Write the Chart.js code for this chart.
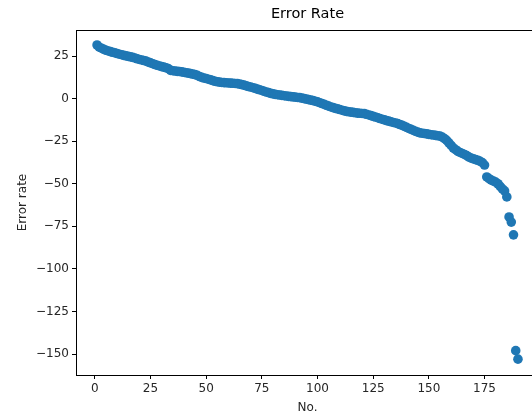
<!DOCTYPE html>
<html>
<head>
<meta charset="utf-8">
<script src="https://cdn.jsdelivr.net/npm/chart.js@4"></script>
<style>
  html, body { margin: 0; padding: 0; background: #fff; overflow: hidden; }
  #wrap { width: 545px; height: 415px; }
</style>
</head>
<body>
<div id="wrap"><canvas id="errChart"></canvas></div>
<script>
// DADOS: taxa de erro por registro (ordenada)
const errorRates = [
  31.5, 30.2, 29.6, 29.0, 28.4, 28.0, 27.6, 27.2, 26.9, 26.5,
  26.1, 25.8, 25.4, 25.1, 24.8, 24.5, 24.2, 23.9, 23.4, 23.0,
  22.7, 22.4, 22.0, 21.5, 21.0, 20.5, 20.0, 19.6, 19.2, 18.8,
  18.5, 18.1, 17.6, 16.6, 16.4, 16.2, 16.0, 15.9, 15.7, 15.5,
  15.2, 15.0, 14.7, 14.4, 14.1, 13.7, 13.0, 12.5, 12.1, 11.8,
  11.4, 11.0, 10.6, 10.2, 9.9, 9.7, 9.5, 9.4, 9.3, 9.2,
  9.1, 9.0, 8.9, 8.8, 8.5, 8.2, 7.9, 7.5, 7.1, 6.8,
  6.4, 6.0, 5.6, 5.2, 4.8, 4.3, 3.9, 3.5, 3.1, 2.8,
  2.5, 2.3, 2.1, 1.9, 1.7, 1.5, 1.3, 1.2, 1.0, 0.9,
  0.7, 0.6, 0.3, 0.0, -0.3, -0.6, -0.9, -1.2, -1.5, -1.9,
  -2.4, -2.9, -3.4, -3.9, -4.4, -4.9, -5.3, -5.7, -6.0, -6.4,
  -6.8, -7.2, -7.5, -7.7, -7.9, -8.1, -8.3, -8.5, -8.6, -8.7,
  -8.8, -9.2, -9.6, -10.0, -10.4, -10.8, -11.2, -11.7, -12.1, -12.5,
  -12.9, -13.2, -13.6, -14.0, -14.3, -14.7, -15.2, -15.7, -16.3, -16.9,
  -17.5, -18.0, -18.6, -19.2, -19.7, -20.1, -20.3, -20.5, -20.7, -21.0,
  -21.2, -21.4, -21.6, -21.8, -22.0, -22.6, -23.5, -24.5, -26.0, -27.5,
  -29.0, -30.0, -31.0, -31.6, -32.2, -32.8, -33.5, -34.3, -34.9, -35.4,
  -35.8, -36.2, -36.8, -37.6, -39.0, -46.0, -47.0, -47.8, -48.4, -49.0,
  -50.0, -51.5, -53.0, -54.2, -57.7, -69.5, -72.5, -80.0, -148.0, -153.0
];
const recordNos = errorRates.map((_, i) => i + 1);
const xTicks = [0, 25, 50, 75, 100, 125, 150, 175];
const yTicks = [25, 0, -25, -50, -75, -100, -125, -150];
const chartTitle = 'Error Rate';

const points = recordNos.map((n, i) => ({ x: n, y: errorRates[i] }));
const FONT = "'DejaVu Sans', sans-serif";
const TXT = '#262626';

// moldura completa + título centralizado sobre a área dos eixos (estilo matplotlib)
const frame = {
    id: 'frame',
    afterDraw(chart) {
        const { ctx, chartArea: a } = chart;
        ctx.save();
        ctx.strokeStyle = '#000';
        ctx.lineWidth = 1;
        ctx.strokeRect(a.left + 0.5, a.top + 0.5, a.right - a.left, a.bottom - a.top);
        ctx.fillStyle = '#000';
        ctx.font = '14.5px ' + FONT;
        ctx.textAlign = 'center';
        ctx.textBaseline = 'middle';
        ctx.fillText(chartTitle, (a.left + a.right) / 2, 14);
        ctx.restore();
    }
};

const ctx = document.getElementById('errChart').getContext('2d');
new Chart(ctx, {
    type: 'scatter',
    data: {
        datasets: [{
            label: 'Error rate',
            data: points,
            backgroundColor: '#1f77b4',
            borderColor: '#1f77b4',
            borderWidth: 0,
            pointRadius: 4.8,
            pointHoverRadius: 4.8
        }]
    },
    options: {
        responsive: true,
        maintainAspectRatio: false,
        animation: false,
        layout: { padding: { left: 0, right: 6, top: 30, bottom: 0 } },
        plugins: {
            legend: { display: false },
            tooltip: { enabled: false },
            title: { display: false }
        },
        scales: {
            x: {
                type: 'linear',
                min: -8.45,
                max: 199.45,
                afterBuildTicks: s => { s.ticks = xTicks.map(v => ({ value: v })); },
                afterFit: s => { s.height = 40; },
                grid: { display: true, drawOnChartArea: false, drawTicks: true, tickLength: 4, color: '#000' },
                border: { display: true, color: '#000' },
                ticks: { color: TXT, font: { family: FONT, size: 12 }, padding: 3, maxRotation: 0 },
                title: { display: true, text: 'No.', color: TXT, font: { family: FONT, size: 12 }, padding: { top: 0, bottom: 0 } }
            },
            y: {
                type: 'linear',
                min: -162.3,
                max: 40.3,
                afterBuildTicks: s => { s.ticks = yTicks.map(v => ({ value: v })); },
                afterFit: s => { s.width = 76; },
                grid: { display: true, drawOnChartArea: false, drawTicks: true, tickLength: 4, color: '#000' },
                border: { display: true, color: '#000' },
                ticks: {
                    color: TXT, font: { family: FONT, size: 12 }, padding: 3,
                    callback: v => String(v).replace('-', '\u2212')
                },
                title: { display: true, text: 'Error rate', color: TXT, font: { family: FONT, size: 12 }, padding: { top: 16, bottom: 0 } }
            }
        }
    },
    plugins: [frame]
});
</script>
</body>
</html>
